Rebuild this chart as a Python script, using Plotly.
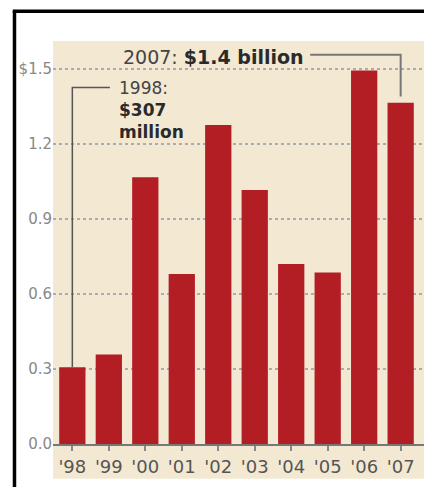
import plotly.graph_objects as go

years = ["'98", "'99", "'00", "'01", "'02", "'03", "'04", "'05", "'06", "'07"]
values = [0.307, 0.358, 1.066, 0.68, 1.275, 1.015, 0.72, 0.686, 1.493, 1.364]
ytick_vals = [0.0, 0.3, 0.6, 0.9, 1.2, 1.5]
ytick_text = ["0.0", "0.3", "0.6", "0.9", "1.2", "$1.5"]

BAR = "#B31E24"
BEIGE = "#F3E9D3"
FONT = "DejaVu Sans"

fig = go.Figure()
fig.add_trace(go.Bar(
    x=list(range(len(years))), y=values,
    marker=dict(color=BAR, line=dict(width=0)),
    width=0.72, hoverinfo="skip",
))

shapes = [
    # beige panel extending below the axis
    dict(type="rect", xref="paper", yref="paper", x0=0, x1=1, y0=-0.086, y1=1,
         fillcolor=BEIGE, line=dict(width=0), layer="below"),
    # black frame (left and top)
    dict(type="line", xref="paper", yref="paper", x0=-0.1038, x1=-0.1038, y0=-0.2, y1=1.074,
         line=dict(color="black", width=3.5)),
    dict(type="line", xref="paper", yref="paper", x0=-0.1085, x1=1.01, y0=1.074, y1=1.074,
         line=dict(color="black", width=3.5)),
    # 1998 connector
    dict(type="path", xref="x", yref="y",
         path=f"M 0 {values[0]} L 0 1.425 L 1.03 1.425",
         line=dict(color="#555", width=1.5)),
    # 2007 connector
    dict(type="path", xref="x", yref="y",
         path=f"M 6.52 1.556 L 9 1.556 L 9 {values[9] + 0.025}",
         line=dict(color="#777", width=2)),
]

annotations = [
    dict(xref="paper", yref="paper", x=0.1825, y=0.960, xanchor="left", yanchor="middle",
         text="<span style='color:#444'>2007:</span> <b>$1.4 billion</b>", showarrow=False,
         font=dict(family=FONT, size=19, color="#2a2a2a")),
    dict(xref="paper", yref="paper", x=0.1717, y=0.830, xanchor="left", yanchor="middle",
         align="left",
         text="<span style='color:#444'>1998:</span><br><b>$307</b><br><b>million</b>",
         showarrow=False, font=dict(family=FONT, size=17, color="#2a2a2a")),
]

fig.update_layout(
    width=424, height=487,
    margin=dict(l=53, r=0, t=41, b=43, pad=0),
    paper_bgcolor="white", plot_bgcolor=BEIGE,
    showlegend=False, shapes=shapes, annotations=annotations,
    font=dict(family=FONT),
)
fig.update_xaxes(
    range=[-0.53, 9.64], tickvals=list(range(len(years))), ticktext=years,
    showgrid=False, zeroline=False, showline=True, linecolor="#777", linewidth=2,
    ticks="outside", ticklen=5, tickwidth=2, tickcolor="#888",
    tickfont=dict(family=FONT, size=18, color="#555"), fixedrange=True,
)
fig.update_yaxes(
    range=[0, 1.611], tickvals=ytick_vals, ticktext=ytick_text,
    showgrid=True, gridcolor="#A9ACB4", gridwidth=1.5, griddash="dot",
    zeroline=False, showline=False, ticks="",
    tickfont=dict(family=FONT, size=15, color="#888"), fixedrange=True,
)

post = ("document.documentElement.style.overflow='hidden';"
        "document.body.style.margin='0';document.body.style.overflow='hidden';")
fig.write_html("out.html", config={"displayModeBar": False}, post_script=post)
